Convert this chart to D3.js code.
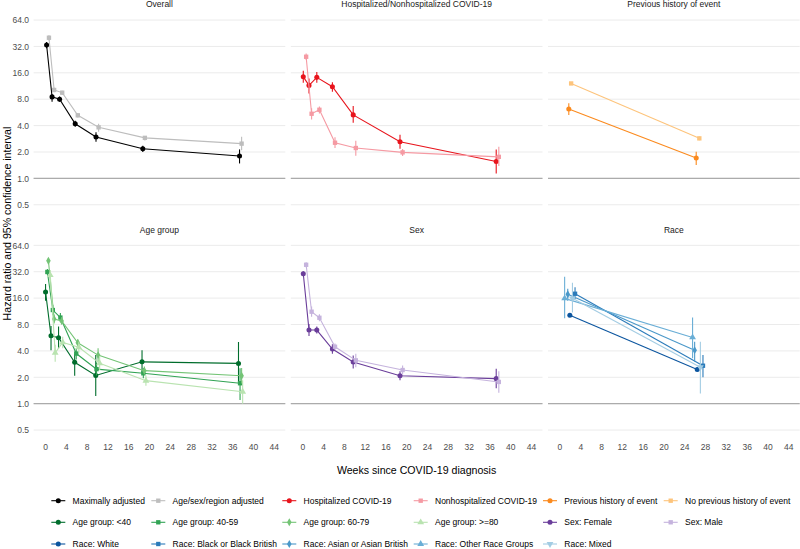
<!DOCTYPE html>
<html>
<head>
<meta charset="utf-8">
<script src="https://cdn.jsdelivr.net/npm/d3@7"></script>
<style>
  html, body { margin: 0; padding: 0; background: #ffffff; }
  svg { display: block; font-family: "Liberation Sans", Arial, sans-serif; }
</style>
</head>
<body>
<svg id="chart" width="800" height="549"></svg>
<script>
// ---------------- DATA ----------------
const panelTitles = ["Overall", "Hospitalized/Nonhospitalized COVID-19", "Previous history of event",
                     "Age group", "Sex", "Race"];
const seriesLabels = ["Maximally adjusted", "Age/sex/region adjusted", "Hospitalized COVID-19",
  "Nonhospitalized COVID-19", "Previous history of event", "No previous history of event",
  "Age group: <40", "Age group: 40-59", "Age group: 60-79", "Age group: >=80",
  "Sex: Female", "Sex: Male",
  "Race: White", "Race: Black or Black British", "Race: Asian or Asian British",
  "Race: Other Race Groups", "Race: Mixed"];
const seriesPanel = [0, 0, 1, 1, 2, 2, 3, 3, 3, 3, 4, 4, 5, 5, 5, 5, 5];
const seriesShape = ["circle", "square", "circle", "square", "circle", "square",
  "circle", "square", "diamond", "triangle", "circle", "square",
  "circle", "square", "diamond", "triangle", "invtriangle"];
const seriesColors = ["#000000", "#bdbdbd", "#e8141c", "#f59aa3", "#fb8a1e", "#fdc47c",
  "#006d2c", "#31a354", "#74c476", "#b9e3b0", "#6a3d9a", "#c5b3dd",
  "#0b559f", "#2b7bba", "#4a98c9", "#6aaed6", "#a3cce3"];

const weeks = [
  [0.3, 1.35, 2.8, 5.8, 9.8, 18.8, 37.4],
  [0.75, 1.75, 3.3, 6.3, 10.3, 19.2, 37.8],
  [0.2, 1.3, 2.8, 5.8, 9.8, 18.8, 37.3],
  [0.75, 1.8, 3.3, 6.3, 10.3, 19.3, 37.8],
  [1.8, 26.3],
  [2.25, 26.9],
  [0.1, 1.15, 2.6, 5.7, 9.75, 18.65, 37.2],
  [0.45, 1.5, 2.95, 6.0, 9.9, 18.9, 37.5],
  [0.65, 1.75, 3.2, 6.3, 10.2, 19.1, 37.8],
  [1.0, 1.95, 3.4, 6.5, 10.5, 19.4, 38.0],
  [0.2, 1.3, 2.8, 5.8, 9.8, 18.8, 37.3],
  [0.75, 1.8, 3.3, 6.3, 10.3, 19.3, 37.8],
  [2.0, 26.5],
  [3.0, 27.6],
  [1.6, 26.0],
  [1.0, 25.6],
  [2.5, 27.1]
];
const hazardRatio = [
  [33.2, 8.5, 8.0, 4.2, 2.97, 2.18, 1.8],
  [40.2, 10.2, 9.5, 5.24, 3.82, 2.9, 2.49],
  [14.4, 11.5, 14.2, 11.1, 5.3, 2.62, 1.56],
  [24.4, 5.46, 6.06, 2.55, 2.22, 1.98, 1.76],
  [6.2, 1.71],
  [12.1, 2.86],
  [18.8, 5.95, 5.66, 2.97, 2.1, 3.0, 2.88],
  [31.8, 11.7, 9.6, 3.73, 2.48, 2.22, 1.71],
  [42.7, 9.25, 8.8, 4.95, 3.58, 2.38, 2.08],
  [29.3, 3.8, 5.0, 4.4, 2.89, 1.83, 1.37],
  [30.3, 6.92, 6.92, 4.2, 2.99, 2.08, 1.93],
  [38.4, 11.2, 9.55, 4.46, 3.12, 2.42, 1.77],
  [10.2, 2.46],
  [17.95, 2.71],
  [17.7, 4.08],
  [15.9, 5.7],
  [15.9, 2.6]
];
const ciLower = [
  [30.5, 7.5, 7.5, 3.89, 2.62, 2.0, 1.48],
  [37.5, 9.6, 9.0, 4.95, 3.4, 2.7, 2.1],
  [12.3, 9.3, 12.3, 9.7, 4.3, 2.18, 1.14],
  [22.5, 4.7, 5.5, 2.22, 1.81, 1.8, 1.38],
  [5.28, 1.42],
  [11.6, 2.72],
  [14.9, 4.08, 4.3, 2.08, 1.22, 2.22, 1.71],
  [29.5, 10.2, 8.5, 3.2, 2.1, 1.95, 1.1],
  [39.5, 8.2, 8.0, 4.5, 3.0, 2.15, 1.7],
  [25.5, 3.0, 4.3, 3.8, 2.4, 1.6, 1.0],
  [28.5, 5.9, 6.3, 3.7, 2.52, 1.85, 1.5],
  [36.0, 9.8, 8.7, 4.1, 2.6, 2.15, 1.33],
  [9.8, 2.35],
  [15.6, 2.0],
  [14.9, 3.0],
  [9.4, 3.3],
  [11.0, 1.31]
];
const ciUpper = [
  [36.0, 9.1, 8.6, 4.54, 3.35, 2.35, 2.14],
  [43.0, 10.8, 10.0, 5.55, 4.2, 3.05, 2.99],
  [16.9, 13.8, 16.3, 12.5, 6.7, 3.15, 2.14],
  [26.5, 6.3, 6.6, 2.94, 2.69, 2.17, 2.3],
  [7.18, 2.01],
  [12.6, 3.0],
  [23.2, 7.7, 7.6, 3.68, 3.58, 4.08, 5.05],
  [34.3, 13.4, 10.8, 4.3, 2.95, 2.55, 2.53],
  [46.0, 10.4, 9.7, 5.4, 4.3, 2.65, 2.55],
  [33.5, 4.7, 5.8, 5.1, 3.5, 2.1, 1.85],
  [32.5, 8.1, 7.6, 4.75, 3.55, 2.34, 2.5],
  [41.0, 12.8, 10.5, 4.85, 3.7, 2.72, 2.35],
  [10.6, 2.57],
  [21.3, 3.6],
  [20.5, 5.1],
  [28.0, 9.6],
  [24.0, 5.1]
];
const yTicks = [0.5, 1, 2, 4, 8, 16, 32, 64];
const xTicks = [0, 4, 8, 12, 16, 20, 24, 28, 32, 36, 40, 44];

// ---------------- LAYOUT ----------------
const svg = d3.select("#chart");
const panelLeft = [33.6, 290.8, 548.0];
const panelW = 251.7;
const panelTop = [10.8, 236.1];
const panelH = 203.2;
const xDomain = [-2.2, 46.2];
const yDomain = [Math.pow(2, -1.35), Math.pow(2, 6.35)];
const font = "'Liberation Sans', Arial, sans-serif";

const panels = panelTitles.map((t, i) => {
  const col = i % 3, row = Math.floor(i / 3);
  const x = d3.scaleLinear().domain(xDomain).range([panelLeft[col], panelLeft[col] + panelW]);
  const y = d3.scaleLog().base(2).domain(yDomain).range([panelTop[row] + panelH, panelTop[row]]);
  return { title: t, col, row, x, y };
});

function symbolPath(shape) {
  const map = {
    circle: d3.symbol(d3.symbolCircle, 20),
    square: d3.symbol(d3.symbolSquare, 19),
    diamond: d3.symbol(d3.symbolDiamond, 18),
    triangle: d3.symbol(d3.symbolTriangle, 20),
    invtriangle: d3.symbol(d3.symbolTriangle, 20)
  };
  return map[shape]();
}
function symbolTransform(shape, cx, cy) {
  return shape === "invtriangle" ? `translate(${cx},${cy}) rotate(180)` : `translate(${cx},${cy})`;
}

// panels: grid, ref line, axes, strips
panels.forEach(p => {
  const g = svg.append("g");
  g.selectAll("line.grid").data(yTicks).join("line")
    .attr("x1", p.x.range()[0]).attr("x2", p.x.range()[1])
    .attr("y1", d => p.y(d)).attr("y2", d => p.y(d))
    .attr("stroke", "#ebebeb").attr("stroke-width", 1);
  g.append("line")
    .attr("x1", p.x.range()[0]).attr("x2", p.x.range()[1])
    .attr("y1", p.y(1)).attr("y2", p.y(1))
    .attr("stroke", "#ababab").attr("stroke-width", 1.1);
  // strip title
  g.append("text")
    .attr("x", (p.x.range()[0] + p.x.range()[1]) / 2)
    .attr("y", p.y.range()[1] - 3.5)
    .attr("text-anchor", "middle")
    .attr("font-size", "8.5px").attr("fill", "#1a1a1a")
    .text(p.title);
  // y axis on first column
  if (p.col === 0) {
    const ax = g.append("g").attr("transform", `translate(${p.x.range()[0] - 2},0)`)
      .call(d3.axisLeft(p.y).tickValues(yTicks).tickSize(0).tickPadding(2.5).tickFormat(d3.format(".1f")));
    ax.select(".domain").remove();
    ax.selectAll("text").attr("font-size", "8.5px").attr("fill", "#4d4d4d").attr("font-family", font);
  }
  // x axis on bottom row
  if (p.row === 1) {
    const ax = g.append("g").attr("transform", `translate(0,${p.y.range()[0] + 2})`)
      .call(d3.axisBottom(p.x).tickValues(xTicks).tickSize(0).tickPadding(3).tickFormat(d3.format("d")));
    ax.select(".domain").remove();
    ax.selectAll("text").attr("font-size", "8.5px").attr("fill", "#4d4d4d").attr("font-family", font);
  }
});

// series
seriesLabels.forEach((lab, s) => {
  const p = panels[seriesPanel[s]];
  const rows = weeks[s].map((w, i) => ({ w, hr: hazardRatio[s][i], lo: ciLower[s][i], hi: ciUpper[s][i] }));
  const g = svg.append("g");
  const col = seriesColors[s];
  g.append("path").datum(rows)
    .attr("d", d3.line().x(d => p.x(d.w)).y(d => p.y(d.hr)))
    .attr("fill", "none").attr("stroke", col).attr("stroke-width", 1.1);
  g.selectAll("line.ci").data(rows).join("line")
    .attr("x1", d => p.x(d.w)).attr("x2", d => p.x(d.w))
    .attr("y1", d => p.y(d.lo)).attr("y2", d => p.y(d.hi))
    .attr("stroke", col).attr("stroke-width", 1.1);
  g.selectAll("path.pt").data(rows).join("path")
    .attr("d", symbolPath(seriesShape[s]))
    .attr("transform", d => symbolTransform(seriesShape[s], p.x(d.w), p.y(d.hr)))
    .attr("fill", col);
});

// axis titles
svg.append("text")
  .attr("transform", `translate(10.5,223.5) rotate(-90)`)
  .attr("text-anchor", "middle").attr("font-size", "10.6px").attr("fill", "#000")
  .text("Hazard ratio and 95% confidence interval");
svg.append("text")
  .attr("x", 416.6).attr("y", 474)
  .attr("text-anchor", "middle").attr("font-size", "10.6px").attr("fill", "#000")
  .text("Weeks since COVID-19 diagnosis");

// legend
const legendKeyX = [58.3, 158.3, 289.3, 420.7, 550, 670.7];
const legendRowY = [500.7, 522.3, 544];
const lg = svg.append("g");
seriesLabels.forEach((lab, s) => {
  const cx = legendKeyX[s % 6], cy = legendRowY[Math.floor(s / 6)];
  const col = seriesColors[s];
  lg.append("line").attr("x1", cx - 7).attr("x2", cx + 7).attr("y1", cy).attr("y2", cy)
    .attr("stroke", col).attr("stroke-width", 1.1);
  lg.append("path").attr("d", symbolPath(seriesShape[s]))
    .attr("transform", symbolTransform(seriesShape[s], cx, cy)).attr("fill", col);
  lg.append("text").attr("x", cx + 14.3).attr("y", cy + 3)
    .attr("font-size", "8.5px").attr("fill", "#000").text(lab);
});
</script>
</body>
</html>
